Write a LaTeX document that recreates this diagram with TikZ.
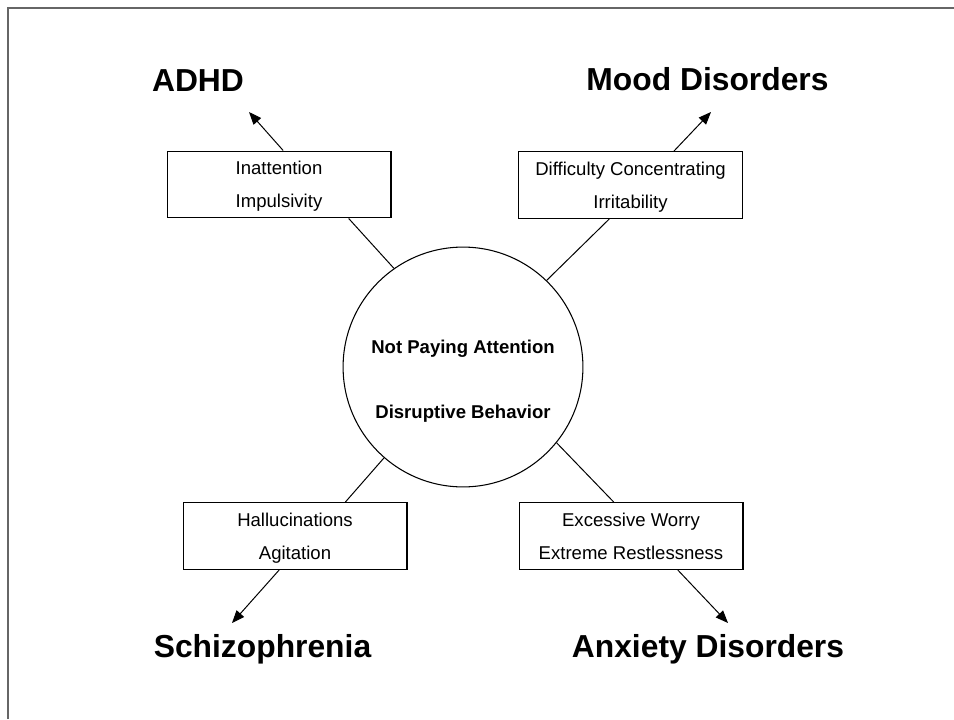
\documentclass[tikz,border=0pt]{standalone}
\usepackage{fontspec}
\setmainfont{Liberation Sans}
\usetikzlibrary{arrows.meta,calc}
\tikzset{
  symbox/.style={draw, line width=0.8pt, align=center, minimum width=169pt,
    minimum height=50.5pt, inner sep=0pt, text depth=0pt, font=\fontsize{14}{25}\selectfont},
  hub/.style={draw, circle, line width=0.8pt, minimum size=181pt, inner sep=0pt},
  hubtext/.style={align=center, inner sep=0pt, font=\bfseries\fontsize{14}{49}\selectfont},
  disorder/.style={anchor=base, inner sep=0pt, font=\bfseries\fontsize{24}{28}\selectfont},
  link/.style={line width=0.75pt},
  arr/.style={-{Triangle[length=9.5pt,width=7.5pt]}, line width=0.75pt},
  frameline/.style={draw=black!60, line width=0.9pt}
}
\begin{document}
\begin{tikzpicture}[x=0.7547pt, y=-0.7547pt]
    \useasboundingbox (0,0) rectangle (954,719);
    \draw[frameline] (8,719) |- (954,8);

    % centre
    \node[hub] (hub) at (463,367) {};
    \node[hubtext] (hubtxt) at (463,381) {Not Paying Attention\\Disruptive Behavior};

    % symptom boxes
    \node[symbox] (adhdbox) at (279,184.5) {Inattention\\Impulsivity};
    \node[symbox] (moodbox) at (630.5,185) {Difficulty Concentrating\\Irritability};
    \node[symbox] (schizobox) at (295,536) {Hallucinations\\Agitation};
    \node[symbox] (anxietybox) at (631,536) {Excessive Worry\\Extreme Restlessness};

    % disorders
    \node[disorder] (adhd) at (198,92) {ADHD};
    \node[disorder] (mood) at (707.5,91) {Mood Disorders};
    \node[disorder] (schizo) at (262.5,657) {Schizophrenia};
    \node[disorder] (anxiety) at (708,657) {Anxiety Disorders};

    \coordinate (adhdtip) at (249,112);
    \coordinate (moodtip) at (711,112);
    \coordinate (schizotip) at (232,623);
    \coordinate (anxietytip) at (728,623);

    \draw[link] (hub.125) -- (adhdbox.334);
    \draw[link] (hub.46) -- (moodbox.238);
    \draw[link] (hub.229) -- (schizobox.34.5);
    \draw[link] (hub.321) -- (anxietybox.117);

    \draw[arr] (adhdbox.83) -- (adhdtip);
    \draw[arr] (moodbox.38) -- (moodtip);
    \draw[arr] (schizobox.245.6) -- (schizotip);
    \draw[arr] (anxietybox.324) -- (anxietytip);
  \end{tikzpicture}
\end{document}
